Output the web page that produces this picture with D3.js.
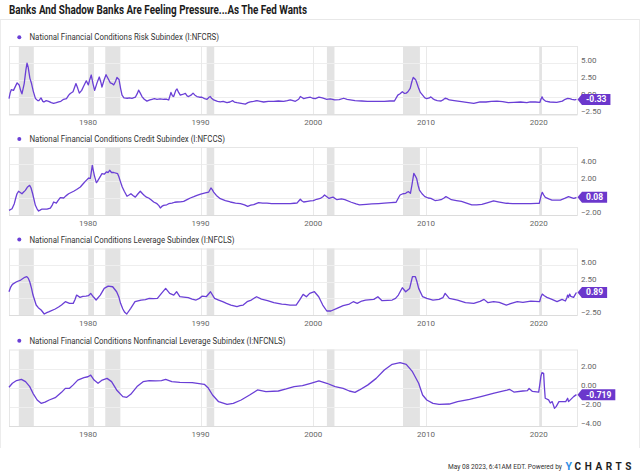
<!DOCTYPE html>
<html><head><meta charset="utf-8">
<script src="https://cdn.jsdelivr.net/npm/d3@7"></script>
<style>html,body{margin:0;padding:0;background:#fff;}svg{display:block;font-family:Roboto,"Noto Sans",sans-serif;}</style>
</head><body><div id="chart"></div>
<script>
const title = "Banks And Shadow Banks Are Feeling Pressure...As The Fed Wants";
const footerText = "May 08 2023, 6:41AM EDT. Powered by";
const xTickYears = [1980, 1990, 2000, 2010, 2020];
const recessions = [[1973.87,1975.2],[1980.04,1980.54],[1981.54,1982.88],[1990.54,1991.21],[2001.21,2001.88],[2007.96,2009.46],[2020.12,2020.29]];
const seriesNames = [
  "National Financial Conditions Risk Subindex (I:NFCRS)",
  "National Financial Conditions Credit Subindex (I:NFCCS)",
  "National Financial Conditions Leverage Subindex (I:NFCLS)",
  "National Financial Conditions Nonfinancial Leverage Subindex (I:NFCNLS)"
];
const lastLabels = ["-0.33","0.08","0.89","-0.719"];
const yTicks1 = [-2.5,0,2.5,5], yTicks2 = [-2,0,2,4], yTicks3 = [-2.5,0,2.5,5], yTicks4 = [-4,-2,0,2];

const risk = [[1973.0,-0.2],[1973.1,0.6],[1973.2,1.1],[1973.4,1.0],[1973.6,1.7],[1973.72,2.1],[1973.9,1.8],[1974.05,0.9],[1974.15,0.5],[1974.35,2.0],[1974.5,4.0],[1974.6,5.0],[1974.7,4.4],[1974.85,2.8],[1975.0,2.0],[1975.15,0.9],[1975.35,-0.2],[1975.55,-0.5],[1975.65,-0.5],[1975.84,-0.1],[1976.0,-0.6],[1976.1,-0.7],[1976.3,-0.5],[1976.52,-0.6],[1976.75,-0.8],[1976.96,-0.9],[1977.2,-0.8],[1977.41,-0.67],[1977.6,-0.6],[1977.85,-0.3],[1978.1,-0.2],[1978.3,0.3],[1978.44,0.55],[1978.68,0.8],[1978.94,2.0],[1979.1,1.3],[1979.24,0.6],[1979.45,1.0],[1979.62,1.6],[1979.86,2.4],[1980.04,1.8],[1980.15,2.5],[1980.3,3.25],[1980.45,2.0],[1980.6,1.0],[1980.81,2.1],[1981.01,2.96],[1981.15,2.2],[1981.25,1.5],[1981.45,2.6],[1981.61,3.3],[1981.8,2.7],[1981.99,2.1],[1982.15,2.0],[1982.29,1.8],[1982.45,2.3],[1982.58,2.9],[1982.76,2.6],[1982.9,1.3],[1983.03,0.3],[1983.2,-0.1],[1983.5,-0.15],[1983.7,-0.1],[1983.91,-0.17],[1984.21,0.0],[1984.4,0.6],[1984.5,1.03],[1984.65,0.6],[1984.8,0.1],[1985.0,-0.3],[1985.24,-0.57],[1985.5,-0.4],[1985.69,-0.3],[1985.9,-0.2],[1986.13,-0.3],[1986.4,-0.25],[1986.72,-0.3],[1987.0,-0.3],[1987.17,-0.4],[1987.3,0.3],[1987.37,0.7],[1987.5,0.2],[1987.61,0.1],[1987.8,1.0],[1987.91,1.2],[1988.05,0.7],[1988.2,0.3],[1988.4,0.4],[1988.65,0.55],[1988.8,0.2],[1988.94,0.1],[1989.15,0.3],[1989.33,0.6],[1989.5,0.3],[1989.68,0.1],[1989.9,0.0],[1990.12,0.0],[1990.35,-0.2],[1990.57,-0.3],[1990.75,0.0],[1990.86,0.1],[1991.0,-0.2],[1991.16,-0.4],[1991.5,-0.6],[1991.75,-0.67],[1992.0,-0.6],[1992.34,-0.8],[1992.6,-0.7],[1992.85,-0.5],[1993.0,-0.7],[1993.23,-0.8],[1993.6,-0.9],[1993.97,-1.0],[1994.2,-0.8],[1994.41,-0.67],[1994.7,-0.6],[1995.0,-0.5],[1995.3,-0.6],[1995.6,-0.7],[1996.0,-0.6],[1996.48,-0.6],[1996.9,-0.55],[1997.37,-0.6],[1997.7,-0.5],[1997.96,-0.4],[1998.2,-0.5],[1998.41,-0.6],[1998.7,-0.3],[1998.85,0.1],[1999.0,-0.05],[1999.15,-0.2],[1999.4,-0.1],[1999.74,0.0],[1999.95,-0.15],[2000.18,-0.2],[2000.5,0.0],[2000.8,-0.1],[2001.2,-0.3],[2001.5,-0.25],[2001.9,-0.4],[2002.3,-0.35],[2002.7,-0.15],[2003.0,-0.3],[2003.7,-0.5],[2004.3,-0.55],[2004.8,-0.6],[2005.5,-0.6],[2006.3,-0.6],[2006.8,-0.55],[2007.2,-0.55],[2007.5,0.3],[2007.7,0.5],[2007.9,0.8],[2008.1,0.55],[2008.25,0.6],[2008.4,0.8],[2008.6,1.3],[2008.75,2.3],[2008.87,2.9],[2009.0,2.7],[2009.1,2.5],[2009.25,1.8],[2009.35,1.3],[2009.5,0.7],[2009.7,0.3],[2009.9,-0.1],[2010.07,-0.2],[2010.3,-0.1],[2010.43,0.05],[2010.6,-0.2],[2010.8,-0.4],[2011.0,-0.5],[2011.34,-0.55],[2011.55,-0.35],[2011.7,-0.15],[2011.85,-0.2],[2012.07,-0.4],[2012.5,-0.5],[2013.15,-0.65],[2013.6,-0.75],[2014.24,-0.9],[2014.8,-0.67],[2015.32,-0.7],[2015.8,-0.6],[2016.3,-0.57],[2016.8,-0.65],[2017.3,-0.8],[2017.8,-0.76],[2018.4,-0.7],[2018.95,-0.8],[2019.25,-0.67],[2019.7,-0.7],[2020.1,-0.76],[2020.2,-0.3],[2020.3,0.06],[2020.4,-0.3],[2020.6,-0.57],[2021.0,-0.7],[2021.6,-0.76],[2022.1,-0.57],[2022.35,-0.3],[2022.57,-0.17],[2022.75,-0.2],[2022.95,-0.3],[2023.2,-0.4],[2023.35,-0.33]];

const credit = [[1973.0,-1.45],[1973.27,-1.26],[1973.47,-0.67],[1973.6,0.0],[1973.71,0.5],[1973.85,0.79],[1974.0,0.65],[1974.15,0.5],[1974.3,0.7],[1974.45,0.9],[1974.65,1.3],[1974.83,1.49],[1974.95,1.2],[1975.1,0.5],[1975.34,-0.86],[1975.5,-1.3],[1975.63,-1.53],[1975.8,-1.4],[1975.93,-1.3],[1976.37,-1.3],[1976.67,-1.18],[1976.85,-0.8],[1976.96,-0.47],[1977.2,-0.6],[1977.35,-0.3],[1977.55,0.04],[1977.85,0.0],[1978.05,0.25],[1978.29,0.5],[1978.74,0.79],[1979.0,1.0],[1979.33,1.3],[1979.6,1.7],[1979.77,1.96],[1980.07,2.35],[1980.22,2.3],[1980.32,3.2],[1980.39,3.84],[1980.47,3.3],[1980.57,2.67],[1980.75,1.8],[1980.85,1.95],[1980.95,2.2],[1981.25,2.86],[1981.45,2.8],[1981.64,3.06],[1981.8,3.0],[1981.93,3.26],[1982.1,3.0],[1982.29,3.0],[1982.64,2.86],[1982.75,2.5],[1982.88,1.96],[1983.05,1.3],[1983.23,0.8],[1983.47,0.2],[1983.65,0.35],[1983.82,0.5],[1984.0,0.3],[1984.21,0.1],[1984.45,0.5],[1984.65,0.8],[1984.85,0.5],[1985.01,0.3],[1985.2,0.1],[1985.39,0.0],[1985.6,-0.2],[1985.84,-0.47],[1986.13,-0.67],[1986.3,-0.9],[1986.43,-1.18],[1986.6,-0.95],[1986.72,-0.86],[1987.0,-0.8],[1987.17,-0.67],[1987.46,-0.6],[1987.7,-0.5],[1987.91,-0.47],[1988.2,-0.45],[1988.5,-0.4],[1988.8,-0.2],[1989.09,0.0],[1989.4,0.15],[1989.68,0.3],[1990.0,0.45],[1990.42,0.6],[1990.72,0.7],[1990.92,1.18],[1991.05,0.95],[1991.16,0.7],[1991.4,0.3],[1991.75,-0.08],[1992.2,-0.3],[1992.64,-0.47],[1993.1,-0.6],[1993.53,-0.67],[1993.9,-0.8],[1994.18,-0.98],[1994.45,-0.85],[1994.71,-0.78],[1995.15,-0.55],[1995.5,-0.6],[1995.89,-0.6],[1996.3,-0.65],[1996.78,-0.67],[1997.3,-0.65],[1997.96,-0.67],[1998.3,-0.62],[1998.55,-0.6],[1998.75,-0.3],[1998.85,-0.15],[1999.0,-0.35],[1999.15,-0.47],[1999.5,-0.4],[1999.74,-0.35],[2000.0,-0.32],[2000.3,-0.15],[2000.62,-0.05],[2000.85,0.15],[2001.0,0.35],[2001.2,0.15],[2001.4,-0.05],[2001.6,0.05],[2001.75,0.1],[2002.1,-0.2],[2002.5,-0.1],[2002.8,-0.2],[2003.37,-0.5],[2003.8,-0.7],[2004.1,-0.8],[2004.7,-0.75],[2005.2,-0.7],[2005.8,-0.65],[2006.3,-0.6],[2006.9,-0.55],[2007.35,-0.5],[2007.55,0.0],[2007.7,0.35],[2007.95,0.5],[2008.2,0.55],[2008.35,0.7],[2008.45,0.74],[2008.62,0.55],[2008.75,1.5],[2008.92,2.9],[2009.05,2.6],[2009.17,2.3],[2009.3,1.5],[2009.42,0.94],[2009.65,0.5],[2009.9,0.16],[2010.2,0.0],[2010.43,-0.04],[2010.8,-0.3],[2011.1,-0.25],[2011.34,-0.2],[2011.6,0.0],[2011.77,0.16],[2012.0,0.0],[2012.25,-0.2],[2012.7,-0.3],[2013.15,-0.4],[2013.6,-0.6],[2014.06,-0.8],[2014.5,-0.8],[2014.96,-0.75],[2015.5,-0.55],[2016.0,-0.35],[2016.4,-0.45],[2017.14,-0.62],[2017.7,-0.65],[2018.2,-0.65],[2018.8,-0.65],[2019.3,-0.66],[2019.8,-0.63],[2020.05,-0.63],[2020.2,0.2],[2020.32,0.67],[2020.45,0.35],[2020.59,0.08],[2020.9,-0.1],[2021.18,-0.24],[2021.6,-0.26],[2021.92,-0.24],[2022.3,-0.05],[2022.65,0.16],[2022.9,0.05],[2023.1,-0.04],[2023.25,0.0],[2023.35,0.08]];

const leverage = [[1973.0,1.0],[1973.15,1.7],[1973.3,2.1],[1973.67,2.5],[1974.04,2.75],[1974.4,3.17],[1974.58,3.27],[1974.72,3.0],[1974.84,2.5],[1975.0,1.5],[1975.13,0.5],[1975.41,-1.0],[1975.6,-1.4],[1975.85,-1.75],[1976.13,-2.35],[1976.35,-2.15],[1976.57,-2.0],[1977.1,-1.6],[1977.4,-1.3],[1977.66,-1.0],[1978.0,-0.5],[1978.37,-0.75],[1978.7,-0.75],[1978.85,-0.2],[1979.0,0.5],[1979.3,0.15],[1979.55,0.3],[1979.83,0.35],[1980.05,0.4],[1980.25,0.75],[1980.5,0.2],[1980.73,-0.25],[1981.1,0.5],[1981.45,1.5],[1981.8,1.85],[1982.2,1.75],[1982.55,1.0],[1982.75,0.2],[1982.9,-0.75],[1983.1,-1.6],[1983.27,-2.1],[1983.45,-2.35],[1983.8,-1.5],[1984.18,-0.5],[1984.72,-0.25],[1985.1,-0.2],[1985.45,0.0],[1985.8,-0.05],[1986.17,0.0],[1986.53,0.75],[1986.9,1.5],[1987.26,0.75],[1987.62,0.5],[1987.87,1.0],[1988.16,0.25],[1988.5,0.2],[1988.9,0.1],[1989.25,-0.1],[1989.6,-0.25],[1989.9,0.0],[1990.15,0.35],[1990.5,0.25],[1990.88,1.0],[1991.24,0.0],[1991.6,-0.25],[1991.96,-0.5],[1992.3,-0.75],[1992.69,-1.0],[1993.23,-1.25],[1993.5,-1.1],[1993.78,-1.0],[1994.13,-0.5],[1994.5,-0.25],[1994.97,0.25],[1995.4,-0.1],[1995.94,-0.35],[1996.5,-0.65],[1997.2,-0.85],[1997.5,-0.9],[1997.94,-1.0],[1998.48,-1.0],[1998.78,-0.25],[1999.1,0.6],[1999.39,0.25],[1999.68,0.75],[2000.1,1.0],[2000.48,0.25],[2000.84,-1.0],[2001.2,-1.9],[2001.56,-1.9],[2002.1,-1.5],[2002.65,-1.1],[2003.2,-0.85],[2003.55,-0.5],[2003.9,-0.75],[2004.3,-0.4],[2004.64,-0.25],[2005.37,-0.15],[2005.73,0.25],[2006.1,-0.35],[2006.6,-0.3],[2007.0,-0.25],[2007.3,0.0],[2007.55,0.5],[2007.9,1.6],[2008.2,1.0],[2008.55,1.5],[2008.8,3.27],[2009.06,3.27],[2009.2,2.5],[2009.35,1.5],[2009.7,0.25],[2010.07,0.0],[2010.62,-0.25],[2011.16,-0.15],[2011.5,0.1],[2011.7,0.75],[2012.07,0.0],[2012.8,-0.25],[2013.5,-0.65],[2014.24,-0.75],[2014.8,-0.45],[2015.15,-0.15],[2015.5,-0.65],[2016.0,-0.5],[2016.5,-0.6],[2017.13,-1.0],[2017.5,-0.8],[2018.1,-0.5],[2018.6,-0.6],[2019.3,-0.4],[2019.7,-0.45],[2020.08,-0.5],[2020.2,0.2],[2020.32,0.65],[2020.5,0.4],[2020.73,0.15],[2021.18,-0.15],[2021.63,-0.5],[2022.07,-0.15],[2022.37,-0.4],[2022.5,0.1],[2022.57,0.5],[2022.65,0.15],[2022.75,0.65],[2022.85,0.3],[2023.1,0.15],[2023.25,0.6],[2023.35,0.89]];

const nonfinLeverage = [[1973.0,0.05],[1973.3,0.47],[1973.67,0.75],[1974.1,0.88],[1974.47,0.64],[1974.84,0.12],[1975.13,-0.58],[1975.5,-1.28],[1975.85,-1.63],[1976.2,-1.5],[1976.57,-1.28],[1977.1,-1.04],[1977.66,-0.48],[1978.0,-0.06],[1978.37,-0.06],[1978.7,0.3],[1979.1,0.8],[1979.65,1.05],[1980.0,1.15],[1980.25,1.32],[1980.55,0.8],[1980.9,0.47],[1981.27,0.8],[1981.7,0.98],[1982.1,0.64],[1982.55,-0.23],[1983.1,-0.93],[1983.45,-1.0],[1983.8,-0.69],[1984.36,0.12],[1984.9,0.64],[1985.45,0.75],[1986.0,0.71],[1986.53,0.75],[1986.9,0.88],[1987.45,0.64],[1988.16,0.57],[1989.26,0.54],[1990.33,0.36],[1990.7,-0.06],[1991.06,-0.76],[1991.6,-1.46],[1992.35,-1.74],[1992.9,-1.63],[1993.6,-1.28],[1994.35,-0.76],[1995.05,-0.23],[1995.8,-0.41],[1996.9,-0.34],[1997.6,-0.13],[1998.3,0.12],[1999.04,0.22],[1999.77,0.47],[2000.5,0.71],[2001.2,0.47],[2001.94,0.12],[2002.65,-0.06],[2003.2,-0.34],[2003.7,-0.48],[2004.1,-0.23],[2004.85,0.3],[2005.58,0.98],[2006.3,1.86],[2007.0,2.45],[2007.7,2.62],[2008.25,2.45],[2008.8,1.68],[2009.35,0.47],[2009.7,-0.76],[2010.07,-1.28],[2010.62,-1.63],[2011.16,-1.74],[2012.07,-1.7],[2012.8,-1.46],[2013.87,-1.22],[2014.96,-0.9],[2016.05,-0.55],[2016.8,-0.35],[2017.19,-0.25],[2017.4,-0.16],[2017.8,-0.45],[2018.6,-0.34],[2019.0,-0.3],[2019.15,-0.08],[2019.45,-0.38],[2020.0,-0.45],[2020.12,0.5],[2020.2,1.2],[2020.29,1.58],[2020.44,1.5],[2020.5,0.2],[2020.58,-1.1],[2020.88,-1.27],[2021.03,-1.6],[2021.2,-1.45],[2021.4,-2.15],[2021.55,-1.97],[2021.8,-1.45],[2022.4,-1.45],[2022.57,-1.1],[2022.65,-1.45],[2023.1,-0.93],[2023.35,-0.72]];

const LINE = "#6a3fd6", BADGE = "#6b37cc";
const W = 640, H = 474;
const svg = d3.select("#chart").append("svg").attr("width", W).attr("height", H);

// frame
svg.append("line").attr("x1",0).attr("x2",W).attr("y1",19.5).attr("y2",19.5).attr("stroke","#e8e8e8");
svg.append("line").attr("x1",0.5).attr("x2",0.5).attr("y1",19.5).attr("y2",448).attr("stroke","#ececec");
svg.append("line").attr("x1",639.5).attr("x2",639.5).attr("y1",19.5).attr("y2",448).attr("stroke","#ececec");

svg.append("text").attr("x",9).attr("y",14.3).attr("font-size",12).attr("font-weight","bold").attr("fill","#1b1b1b")
  .attr("textLength",298).attr("lengthAdjust","spacingAndGlyphs").text(title);

const x = d3.scaleLinear().domain([1973.0, 2023.4]).range([9, 577]);

const panels = [
  {data: risk, domain: [-2.5, 7.5], ticks: yTicks1, top: 46, bottom: 114.3, legendY: 37.2, legendW: 189.5},
  {data: credit, domain: [-2, 6], ticks: yTicks2, top: 147, bottom: 215, legendY: 139, legendW: 195.5},
  {data: leverage, domain: [-2.5, 7.5], ticks: yTicks3, top: 248.5, bottom: 315, legendY: 239.5, legendW: 205},
  {data: nonfinLeverage, domain: [-4, 4], ticks: yTicks4, top: 349.5, bottom: 426, legendY: 340.8, legendW: 256}
];

panels.forEach((p, i) => {
  const g = svg.append("g");
  const y = d3.scaleLinear().domain(p.domain).range([p.bottom, p.top]);
  // legend
  g.append("circle").attr("cx",19.3).attr("cy",p.legendY).attr("r",2).attr("fill",LINE);
  g.append("text").attr("x",29.5).attr("y",p.legendY+3.1).attr("font-size",9).attr("fill","#333")
    .attr("textLength",p.legendW).attr("lengthAdjust","spacingAndGlyphs").text(seriesNames[i]);
  // recession bands
  g.selectAll("rect.rec").data(recessions).join("rect").attr("class","rec")
    .attr("x", d => x(d[0])).attr("width", d => Math.max(1.5, x(d[1]) - x(d[0])))
    .attr("y", p.top).attr("height", p.bottom - p.top).attr("fill","#e3e3e3");
  // horizontal grid
  g.selectAll("line.hg").data(p.ticks).join("line").attr("class","hg")
    .attr("x1", x.range()[0]).attr("x2", x.range()[1])
    .attr("y1", d => Math.round(y(d))+0.5).attr("y2", d => Math.round(y(d))+0.5)
    .attr("stroke","#eeeeee");
  // vertical grid
  g.selectAll("line.vg").data(xTickYears).join("line").attr("class","vg")
    .attr("x1", d => Math.round(x(d))+0.5).attr("x2", d => Math.round(x(d))+0.5)
    .attr("y1", p.top).attr("y2", p.bottom).attr("stroke","#e9e9e9");
  // border
  g.append("rect").attr("x",x.range()[0]+0.5).attr("y",p.top+0.5)
    .attr("width",x.range()[1]-x.range()[0]).attr("height",p.bottom-p.top)
    .attr("fill","none").attr("stroke","#e6e6e6");
  g.append("line").attr("x1",x.range()[0]).attr("x2",x.range()[1]).attr("y1",p.bottom+0.5).attr("y2",p.bottom+0.5).attr("stroke","#dcdcdc");
  // line
  const line = d3.line().x(d => x(d[0])).y(d => y(d[1]));
  g.append("path").datum(p.data).attr("d", line).attr("fill","none")
    .attr("stroke",LINE).attr("stroke-width",1.3).attr("stroke-linejoin","round");
  // y tick labels
  g.selectAll("text.yt").data(p.ticks).join("text").attr("class","yt")
    .attr("x",581).attr("y", d => y(d)).attr("font-size",8).attr("fill","#666")
    .text(d => d3.format(".2f")(d));
  // x tick labels
  g.selectAll("text.xt").data(xTickYears).join("text").attr("class","xt")
    .attr("x", d => x(d)).attr("y", p.bottom + 11).attr("text-anchor","middle")
    .attr("font-size",8).attr("fill","#666").text(d => d);
  // last value badge
  const last = p.data[p.data.length-1];
  const by = y(last[1]);
  const bt = g.append("text").attr("font-size",8.5).attr("font-weight","bold").attr("fill","#fff").text(lastLabels[i]);
  const tw = bt.node().getComputedTextLength();
  const bx0 = 577.5, bx1 = 582, bw = tw + 8, bh = 11;
  g.insert("path", "text:last-child").attr("fill",BADGE)
    .attr("d", `M${bx0},${by} L${bx1},${by-bh/2} L${bx1+bw},${by-bh/2} L${bx1+bw},${by+bh/2} L${bx1},${by+bh/2} Z`);
  bt.attr("x", bx1 + bw/2).attr("y", by + 3).attr("text-anchor","middle");
  bt.raise();
});

// footer
svg.append("text").attr("x",448).attr("y",469).attr("font-size",7.5).attr("fill","#333")
  .attr("textLength",114).attr("lengthAdjust","spacingAndGlyphs").text(footerText);
svg.append("text").attr("x",565.5).attr("y",470.3).attr("font-size",10.5).attr("font-weight","bold").attr("fill","#2d8ee6").text("Y");
svg.append("text").attr("x",574.5).attr("y",470.3).attr("font-size",10).attr("font-weight","bold").attr("fill","#1e1e1e")
  .attr("textLength",57).attr("lengthAdjust","spacing").text("CHARTS");
</script></body></html>
